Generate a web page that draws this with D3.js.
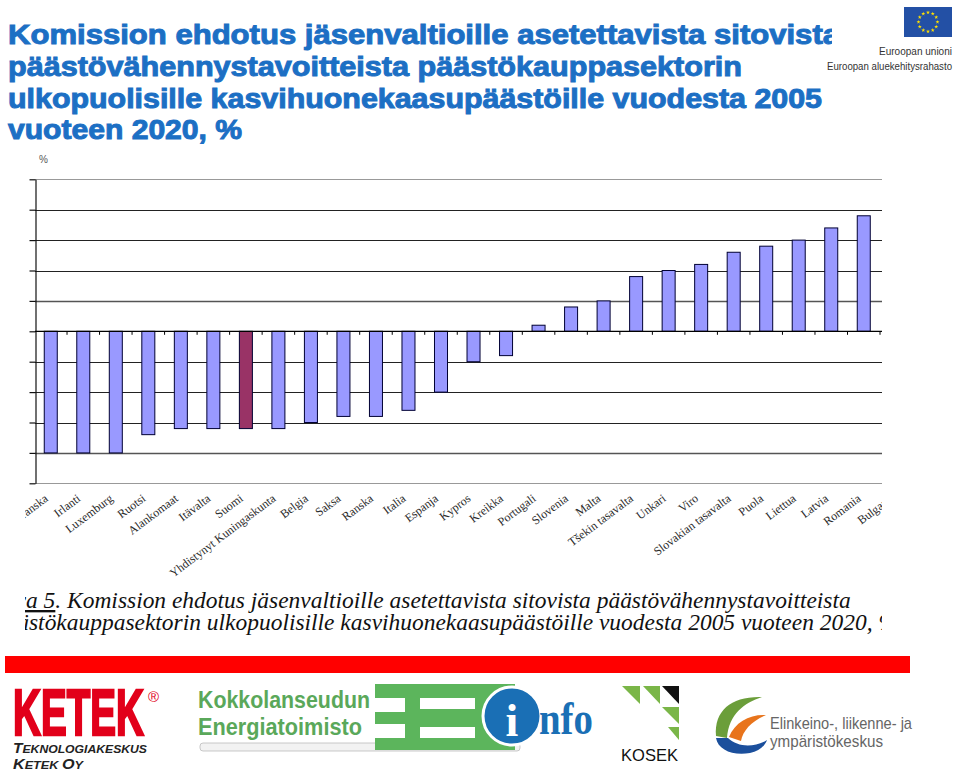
<!DOCTYPE html>
<html><head><meta charset="utf-8">
<script src="https://cdn.jsdelivr.net/npm/d3@7"></script>
<style>body{margin:0;background:#fff}svg{display:block}</style>
</head><body>
<svg id="c" width="960" height="770"></svg>
<script>
// ---------- data ----------
const categories = ["Tanska","Irlanti","Luxemburg","Ruotsi","Alankomaat","Itävalta","Suomi",
  "Yhdistynyt Kuningaskunta","Belgia","Saksa","Ranska","Italia","Espanja","Kypros","Kreikka",
  "Portugali","Slovenia","Malta","Tšekin tasavalta","Unkari","Viro","Slovakian tasavalta",
  "Puola","Liettua","Latvia","Romania","Bulgaria"];
const values = [-20,-20,-20,-17,-16,-16,-16,-16,-15,-14,-14,-13,-10,-5,-4,
  1,4,5,9,10,11,13,14,15,17,19,20];
const highlighted = ["Suomi"];
const yTicks = [-25,-20,-15,-10,-5,0,5,10,15,20,25];
const yUnit = "%";
const titleLines = [
  "Komission ehdotus jäsenvaltioille asetettavista sitovista",
  "päästövähennystavoitteista päästökauppasektorin",
  "ulkopuolisille kasvihuonekaasupäästöille vuodesta 2005",
  "vuoteen 2020, %"];
const captionLead = "Kuva 5";
const captionLine1 = ". Komission ehdotus jäsenvaltioille asetettavista sitovista päästövähennystavoitteista";
const captionLine2 = "päästökauppasektorin ulkopuolisille kasvihuonekaasupäästöille vuodesta 2005 vuoteen 2020, %";

// ---------- setup ----------
const SERIF = "'Liberation Serif', 'Times New Roman', Times, 'DejaVu Serif', serif";
const SANS = "'Liberation Sans', Arial, Helvetica, sans-serif";
const svg = d3.select("#c");
svg.append("rect").attr("width",960).attr("height",770).attr("fill","#fff");
const defs = svg.append("defs");
defs.append("clipPath").attr("id","crop").append("rect")
  .attr("x",25).attr("y",145).attr("width",857).attr("height",500);

const x = d3.scaleBand().domain(categories).range([34.5, 34.5 + 27*32.52])
  .paddingInner(0.6).paddingOuter(0.3);
const y = d3.scaleLinear().domain([-25,25]).range([483.3,179.3]);

const g = svg.append("g").attr("clip-path","url(#crop)");

// gridlines
g.append("g").selectAll("line").data(yTicks).join("line")
  .attr("x1",35).attr("x2",915)
  .attr("y1",d=>Math.round(y(d))+0.5).attr("y2",d=>Math.round(y(d))+0.5)
  .attr("stroke",d=> (d===25||d===-25) ? "#999" : (d===5||d===-20) ? "#555" : "#222")
  .attr("stroke-width",d=> (d===5||d===-20) ? 1.4 : 1);

// y axis with ticks (labels cropped off in source)
const yAxis = g.append("g").attr("transform","translate(35.5,0)")
  .call(d3.axisLeft(y).tickValues(yTicks).tickFormat("").tickSize(6).tickSizeOuter(0));
yAxis.selectAll("path,line").attr("stroke","#111").attr("stroke-width",1.2);

// unit label
g.append("text").attr("x",39).attr("y",163).text(yUnit)
  .style("font-family",SANS).attr("font-size",10).attr("fill","#555");

// bars
g.append("g").selectAll("rect").data(categories).join("rect")
  .attr("x",d=>x(d)).attr("width",x.bandwidth())
  .attr("y",(d,i)=>y(Math.max(0,values[i])))
  .attr("height",(d,i)=>Math.abs(y(values[i])-y(0)))
  .attr("fill",d=>highlighted.includes(d) ? "#993366" : "#9999FF")
  .attr("stroke","#000033").attr("stroke-width",1);

// zero axis line + category boundary ticks
g.append("line").attr("x1",35).attr("x2",915).attr("y1",y(0)).attr("y2",y(0))
  .attr("stroke","#000").attr("stroke-width",1.2);
g.append("g").selectAll("line").data(categories).join("line")
  .attr("x1",d=>x(d)+x.bandwidth()/2+x.step()/2).attr("x2",d=>x(d)+x.bandwidth()/2+x.step()/2)
  .attr("y1",y(0)).attr("y2",y(0)+3.5).attr("stroke","#000").attr("stroke-width",1);

// category labels
g.append("g").selectAll("text").data(categories).join("text")
  .attr("transform",d=>`translate(${x(d)+x.bandwidth()/2-2},500) rotate(-37)`)
  .attr("text-anchor","end")
  .style("font-family",SERIF)
  .attr("font-size",12).attr("fill","#2a2a2a").text(d=>d);

// caption
const cap1 = g.append("text").attr("y",608).style("font-family",SERIF)
  .style("font-style","italic").attr("font-size",16).attr("fill","#111");
cap1.append("tspan").attr("text-decoration","underline").text(captionLead);
cap1.append("tspan").text(captionLine1);
const n1 = (captionLead+captionLine1).length;
const wAll = cap1.node().getSubStringLength(3, n1-3);
const s = 825 / wAll;
const capSize = 16*s;
cap1.attr("font-size",capSize);
const wKuv = cap1.node().getSubStringLength(0,3);
cap1.attr("x", 26 - wKuv);
const cap2 = g.append("text").attr("y",630).style("font-family",SERIF)
  .style("font-style","italic").attr("font-size",capSize).attr("fill","#111").text(captionLine2);
const wPaa = cap2.node().getSubStringLength(0,3);
cap2.attr("x", 29 - wPaa);

// ---------- title ----------
const tBase = [44,76,108,139];
const tLen = [832,734,814,234];
const tg = svg.append("g");
tBase.forEach((b,i)=> tg.append("text").attr("x",8).attr("y",b)
  .style("font-family",SANS).attr("font-weight","bold").attr("font-size",28)
  .attr("fill","#1c6fc4").attr("stroke","#1c6fc4").attr("stroke-width",1)
  .attr("textLength",tLen[i]).attr("lengthAdjust","spacingAndGlyphs").text(titleLines[i]));
// EU logo block covering title end
svg.append("rect").attr("x",832).attr("y",0).attr("width",128).attr("height",50).attr("fill","#fff");
svg.append("rect").attr("x",904).attr("y",7).attr("width",48).attr("height",30).attr("fill","#2350a5");
const stars = d3.range(12);
svg.append("g").selectAll("path").data(stars).join("path")
  .attr("d", d3.symbol().type(d3.symbolStar).size(5))
  .attr("transform",d=>`translate(${928+9.5*Math.cos(d*Math.PI/6)},${22+9.5*Math.sin(d*Math.PI/6)})`)
  .attr("fill","#ffe000");
svg.append("text").attr("x",952).attr("y",55).attr("text-anchor","end")
  .style("font-family",SANS).attr("font-size",11.5).attr("fill","#333")
  .attr("textLength",73).attr("lengthAdjust","spacingAndGlyphs").text("Euroopan unioni");
svg.append("text").attr("x",952).attr("y",70).attr("text-anchor","end")
  .style("font-family",SANS).attr("font-size",11.5).attr("fill","#333")
  .attr("textLength",125).attr("lengthAdjust","spacingAndGlyphs").text("Euroopan aluekehitysrahasto");

// ---------- footer ----------
svg.append("rect").attr("x",5).attr("y",656).attr("width",905).attr("height",17).attr("fill","#ff0000");

// KETEK
svg.append("text").attr("x",13).attr("y",735).style("font-family",SANS).attr("font-weight","bold")
  .attr("font-size",64).attr("fill","#e2001a").attr("stroke","#e2001a").attr("stroke-width",2.5)
  .attr("textLength",131).attr("lengthAdjust","spacingAndGlyphs").text("KETEK");
svg.append("text").attr("x",148).attr("y",702).style("font-family",SANS)
  .attr("font-size",15).attr("fill","#e2001a").text("®");
const k1 = svg.append("text").attr("x",13).attr("y",753).style("font-family",SANS)
  .attr("font-weight","bold").style("font-style","italic").attr("fill","#222")
  .attr("textLength",134).attr("lengthAdjust","spacingAndGlyphs");
k1.append("tspan").attr("font-size",14).text("T");
k1.append("tspan").attr("font-size",11).text("EKNOLOGIAKESKUS");
const k2 = svg.append("text").attr("x",13).attr("y",769).style("font-family",SANS)
  .attr("font-weight","bold").style("font-style","italic").attr("fill","#222")
  .attr("textLength",70).attr("lengthAdjust","spacingAndGlyphs");
k2.append("tspan").attr("font-size",14).text("K");
k2.append("tspan").attr("font-size",11).text("ETEK ");
k2.append("tspan").attr("font-size",14).text("O");
k2.append("tspan").attr("font-size",11).text("Y");

// Energiatoimisto
svg.append("rect").attr("x",200).attr("y",743).attr("width",320).attr("height",8).attr("rx",3)
  .attr("fill","#f2f2f2").attr("stroke","#bbb").attr("stroke-width",0.8);
svg.append("text").attr("x",198).attr("y",708).style("font-family",SANS).attr("font-weight","bold")
  .attr("font-size",24).attr("fill","#5aa85a").attr("textLength",172)
  .attr("lengthAdjust","spacingAndGlyphs").text("Kokkolanseudun");
svg.append("text").attr("x",198).attr("y",735).style("font-family",SANS).attr("font-weight","bold")
  .attr("font-size",24).attr("fill","#5aa85a").attr("textLength",164)
  .attr("lengthAdjust","spacingAndGlyphs").text("Energiatoimisto");
svg.append("rect").attr("x",375).attr("y",684).attr("width",140).attr("height",66).attr("fill","#5cb55c");
svg.append("rect").attr("x",375).attr("y",698).attr("width",30).attr("height",14).attr("fill","#fff");
svg.append("rect").attr("x",375).attr("y",724).attr("width",30).attr("height",14).attr("fill","#fff");
svg.append("rect").attr("x",420).attr("y",698).attr("width",55).attr("height",11).attr("fill","#fff");
svg.append("rect").attr("x",420).attr("y",727).attr("width",55).attr("height",11).attr("fill","#fff");
svg.append("circle").attr("cx",512).attr("cy",716).attr("r",29).attr("fill","#1a6fb5")
  .attr("stroke","#fff").attr("stroke-width",3);
svg.append("text").attr("x",512).attr("y",736).attr("text-anchor","middle")
  .style("font-family",SERIF).attr("font-weight","bold")
  .attr("font-size",46).attr("fill","#fff").text("i");
svg.append("text").attr("x",539).attr("y",734).style("font-family",SERIF)
  .attr("font-weight","bold").attr("font-size",46).attr("fill","#1a6fb5")
  .attr("textLength",54).attr("lengthAdjust","spacingAndGlyphs").text("nfo");

// KOSEK
const kg = svg.append("g");
[[[622,686],[640,686],[640,704],"#7ab648"],[[643,686],[660,686],[660,704],"#7ab648"],
 [[662,686],[679,686],[679,704],"#111"],[[662,707],[679,707],[679,724],"#7ab648"],
 [[668,727],[679,727],[679,740],"#7ab648"]].forEach(p=>{
  kg.append("polygon").attr("points",p.slice(0,3).map(q=>q.join(",")).join(" ")).attr("fill",p[3]);
});
svg.append("text").attr("x",621).attr("y",761).style("font-family",SANS).attr("font-size",17)
  .attr("fill","#111").attr("textLength",57).attr("lengthAdjust","spacingAndGlyphs").text("KOSEK");

// ELY
svg.append("path").attr("d","M716,736 C714,710 732,696 762,697 C744,703 729,714 727,738 Z").attr("fill","#6b9e3a");
svg.append("path").attr("d","M729,737 C735,722 750,714 766,715 C752,721 743,730 741,741 Z").attr("fill","#e8741c");
svg.append("path").attr("d","M716,738 C718,750 733,756 750,753 C759,751 765,746 767,740 C756,747 738,748 728,738 Z").attr("fill","#1b4f9c");
svg.append("text").attr("x",770).attr("y",729).style("font-family",SANS).attr("font-size",17)
  .attr("fill","#666").attr("textLength",142).attr("lengthAdjust","spacingAndGlyphs").text("Elinkeino-, liikenne- ja");
svg.append("text").attr("x",770).attr("y",747).style("font-family",SANS).attr("font-size",17)
  .attr("fill","#666").attr("textLength",113).attr("lengthAdjust","spacingAndGlyphs").text("ympäristökeskus");
</script>
</body></html>
